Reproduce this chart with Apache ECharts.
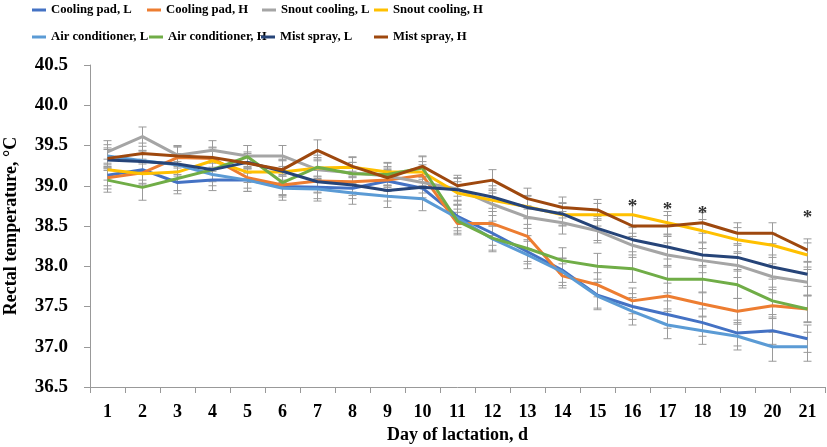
<!DOCTYPE html>
<html>
<head>
<meta charset="utf-8">
<script src="https://cdn.jsdelivr.net/npm/echarts@6/dist/echarts.min.js"></script>
<style>html,body{margin:0;padding:0;background:#fff;}#c{width:827px;height:447px;}</style>
</head>
<body>
<div id="c"></div>
<script>
const days = ['1','2','3','4','5','6','7','8','9','10','11','12','13','14','15','16','17','18','19','20','21'];
const yTicks = [36.5, 37.0, 37.5, 38.0, 38.5, 39.0, 39.5, 40.0, 40.5];

const seriesNames = ['Cooling pad, L','Cooling pad, H','Snout cooling, L','Snout cooling, H','Air conditioner, L','Air conditioner, H','Mist spray, L','Mist spray, H'];

const coolingPadL   = [39.13,39.20,39.04,39.07,39.07,38.99,38.98,38.97,39.06,38.97,38.62,38.41,38.18,37.95,37.64,37.50,37.40,37.30,37.17,37.20,37.10];
const coolingPadH   = [39.10,39.16,39.35,39.34,39.10,39.01,39.06,39.05,39.07,39.13,38.53,38.53,38.37,37.88,37.77,37.57,37.63,37.53,37.44,37.51,37.47];
const snoutL        = [39.42,39.61,39.38,39.44,39.37,39.37,39.20,39.16,39.12,39.04,38.96,38.77,38.61,38.54,38.44,38.26,38.14,38.07,38.01,37.87,37.80];
const snoutH        = [39.20,39.15,39.17,39.31,39.17,39.17,39.22,39.23,39.17,39.17,38.91,38.82,38.74,38.64,38.64,38.64,38.54,38.44,38.33,38.26,38.14];
const airL          = [39.37,39.31,39.26,39.14,39.07,38.97,38.96,38.91,38.87,38.84,38.60,38.34,38.14,37.93,37.63,37.44,37.27,37.20,37.13,37.00,37.00];
const airH          = [39.07,38.98,39.09,39.20,39.36,39.04,39.23,39.15,39.14,39.22,38.56,38.35,38.22,38.07,38.00,37.97,37.84,37.84,37.77,37.57,37.47];
const mistL         = [39.32,39.30,39.27,39.20,39.29,39.18,39.05,39.01,38.94,38.98,38.95,38.86,38.73,38.65,38.47,38.33,38.24,38.14,38.11,37.99,37.90];
const mistH         = [39.34,39.40,39.37,39.35,39.28,39.20,39.44,39.24,39.10,39.24,39.00,39.07,38.84,38.73,38.70,38.50,38.50,38.54,38.41,38.41,38.20];

const coolingPadL_se = [0.13,0.13,0.14,0.13,0.14,0.13,0.14,0.13,0.13,0.14,0.14,0.15,0.15,0.15,0.16,0.16,0.17,0.17,0.16,0.17,0.17];
const coolingPadH_se = [0.14,0.13,0.13,0.14,0.13,0.13,0.14,0.13,0.13,0.13,0.14,0.15,0.15,0.15,0.15,0.16,0.16,0.15,0.16,0.16,0.16];
const snoutL_se      = [0.14,0.12,0.12,0.12,0.13,0.13,0.13,0.13,0.12,0.13,0.14,0.14,0.14,0.14,0.15,0.15,0.15,0.15,0.15,0.16,0.16];
const snoutH_se      = [0.13,0.14,0.13,0.13,0.13,0.14,0.13,0.12,0.12,0.13,0.14,0.14,0.14,0.14,0.14,0.14,0.14,0.14,0.15,0.15,0.15];
const airL_se        = [0.14,0.13,0.14,0.14,0.14,0.15,0.15,0.14,0.14,0.15,0.16,0.16,0.17,0.17,0.17,0.17,0.17,0.17,0.17,0.18,0.18];
const airH_se        = [0.15,0.16,0.15,0.15,0.14,0.15,0.15,0.14,0.14,0.14,0.15,0.15,0.16,0.16,0.16,0.17,0.17,0.17,0.17,0.17,0.17];
const mistL_se       = [0.13,0.13,0.13,0.13,0.13,0.14,0.14,0.13,0.13,0.13,0.14,0.14,0.14,0.14,0.15,0.15,0.15,0.15,0.15,0.15,0.15];
const mistH_se       = [0.13,0.13,0.12,0.12,0.12,0.13,0.13,0.12,0.12,0.13,0.13,0.13,0.13,0.13,0.13,0.13,0.13,0.13,0.13,0.13,0.14];

const starDays   = ['16','17','18','21'];
const starValues = [38.74, 38.70, 38.65, 38.60];

const values = [coolingPadL, coolingPadH, snoutL, snoutH, airL, airH, mistL, mistH];
const ses = [coolingPadL_se, coolingPadH_se, snoutL_se, snoutH_se, airL_se, airH_se, mistL_se, mistH_se];
const colors = ['#4472C4','#ED7D31','#A5A5A5','#FFC000','#5B9BD5','#70AD47','#264478','#9E480E'];

const FONT = '"Liberation Serif", "Times New Roman", serif';

const legendPos = [
  {left: 32, top: 0}, {left: 147, top: 0}, {left: 262, top: 0}, {left: 374, top: 0},
  {left: 32, top: 27}, {left: 149, top: 27}, {left: 261, top: 27}, {left: 374, top: 27}
];

const chart = echarts.init(document.getElementById('c'), null, {renderer: 'canvas'});

const series = [];
// error bars
values.forEach((vals, si) => {
  series.push({
    type: 'custom',
    name: seriesNames[si] + ' err',
    silent: true,
    z: 1,
    data: vals.map((v, i) => [i, v - ses[si][i], v + ses[si][i]]),
    renderItem: function (params, api) {
      const x = api.coord([api.value(0), api.value(1)])[0];
      const lo = api.coord([api.value(0), api.value(1)])[1];
      const hi = api.coord([api.value(0), api.value(2)])[1];
      const w = 4;
      const st = {stroke: '#9A9A9A', lineWidth: 1};
      return {
        type: 'group',
        children: [
          {type: 'line', shape: {x1: x, y1: lo, x2: x, y2: hi}, style: st},
          {type: 'line', shape: {x1: x - w, y1: lo, x2: x + w, y2: lo}, style: st},
          {type: 'line', shape: {x1: x - w, y1: hi, x2: x + w, y2: hi}, style: st}
        ]
      };
    }
  });
});
values.forEach((vals, si) => {
  series.push({
    type: 'line',
    name: seriesNames[si],
    data: vals,
    symbol: 'none',
    z: 2 + si,
    lineStyle: {color: colors[si], width: 3},
    itemStyle: {color: colors[si]}
  });
});
series.push({
  type: 'custom',
  name: 'stars',
  silent: true,
  z: 20,
  data: starDays.map((d, i) => [d, starValues[i]]),
  renderItem: function (params, api) {
    const p = api.coord([api.value(0), api.value(1)]);
    return {
      type: 'text',
      x: p[0], y: p[1],
      style: {text: '*', fill: '#333', font: 'bold 19px ' + FONT, align: 'center', verticalAlign: 'middle'}
    };
  }
});

const legends = seriesNames.map((n, i) => ({
  data: [{name: n, icon: 'rect'}],
  left: legendPos[i].left,
  top: legendPos[i].top,
  padding: 0,
  itemWidth: 14,
  itemHeight: 3,
  selectedMode: false,
  textStyle: {fontFamily: FONT, fontWeight: 'bold', fontSize: 12.7, color: '#000', lineHeight: 20}
}));

chart.setOption({
  animation: false,
  backgroundColor: '#fff',
  legend: legends,
  grid: {left: 90, right: 2, top: 65, bottom: 60, containLabel: false, outerBoundsMode: 'none'},
  xAxis: {
    type: 'category',
    data: days,
    boundaryGap: true,
    name: 'Day of lactation, d',
    nameLocation: 'middle',
    nameGap: 38,
    nameTextStyle: {fontFamily: FONT, fontWeight: 'bold', fontSize: 18, color: '#000'},
    axisLine: {lineStyle: {color: '#999', width: 1}},
    axisTick: {show: true, length: 6, lineStyle: {color: '#999'}},
    axisLabel: {fontFamily: FONT, fontWeight: 'bold', fontSize: 18, color: '#000', margin: 16},
    splitLine: {show: false}
  },
  yAxis: {
    type: 'value',
    min: yTicks[0],
    max: yTicks[yTicks.length - 1],
    interval: 0.5,
    name: 'Rectal temperature, °C',
    nameLocation: 'middle',
    nameGap: 70,
    nameRotate: 90,
    nameTextStyle: {fontFamily: FONT, fontWeight: 'bold', fontSize: 18, color: '#000'},
    axisLine: {show: true, lineStyle: {color: '#999', width: 1}},
    axisTick: {show: true, length: 6, lineStyle: {color: '#999'}},
    axisLabel: {fontFamily: FONT, fontWeight: 'bold', fontSize: 19, color: '#000', margin: 22,
      formatter: v => v.toFixed(1)},
    splitLine: {show: false}
  },
  series: series
});
</script>
</body>
</html>
